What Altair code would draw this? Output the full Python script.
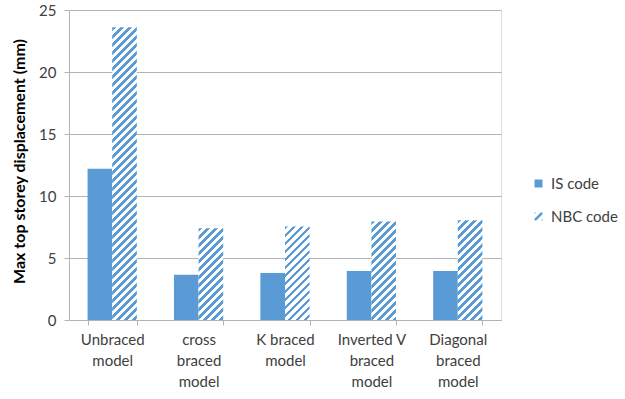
import altair as alt
import pandas as pd

categories = ["Unbraced model", "cross braced model", "K braced model",
              "Inverted V braced model", "Diagonal braced model"]
label_lines = [["Unbraced", "model"], ["cross", "braced", "model"], ["K braced", "model"],
               ["Inverted V", "braced", "model"], ["Diagonal", "braced", "model"]]
series = ["IS code", "NBC code"]
is_values = [12.2, 3.65, 3.8, 3.95, 3.95]
nbc_values = [23.6, 7.4, 7.55, 7.95, 8.05]
y_ticks = [0, 5, 10, 15, 20, 25]

BLUE = "#5B9BD5"
GRID = "#B3B3B3"
TEXT = "#404040"
FONT = "Lato"
W, H = 432, 310
YMAX = 25
P_INNER = 0.43
# legend symbol shapes: solid square and a small hatched square (path in -1..1 box)
HATCH_PATH = ("M-1,0.55L0.55,-1L1,-1L1,-0.55L-0.55,1L-1,1Z"
              "M-1,-1L-0.6,-1L-1,-0.6Z M1,1L0.6,1L1,0.6Z")

rows = []
for c, a, b in zip(categories, is_values, nbc_values):
    rows.append({"category": c, "code": series[0], "value": a})
    rows.append({"category": c, "code": series[1], "value": b})
df = pd.DataFrame(rows)

step = W / len(categories)
bar_w = step * (1 - P_INNER) / 2


def hatch(w, h, period=8.0, frac=0.45):
    total = w + h
    stops = []
    k = 0
    while k * period < total:
        a = k * period / total
        b = min((k + frac) * period / total, 1)
        c = min((k + 1) * period / total, 1)
        stops += [{"offset": a, "color": BLUE}, {"offset": b, "color": BLUE},
                  {"offset": b, "color": "white"}, {"offset": c, "color": "white"}]
        k += 1
    kk = total / (w * w + h * h)
    return alt.LinearGradient(gradient="linear", x1=0, y1=0, x2=kk * w, y2=kk * h, stops=stops)


names_js = "[" + ",".join("'%s'" % c for c in categories) + "]"
lines_js = "[" + ",".join("[" + ",".join("'%s'" % s for s in l) + "]" for l in label_lines) + "]"
label_expr = f"{lines_js}[indexof({names_js}, datum.label)]"

base = alt.Chart(df).encode(
    x=alt.X("category:N", sort=categories, title=None,
            scale=alt.Scale(paddingInner=P_INNER, paddingOuter=P_INNER / 2),
            axis=alt.Axis(labelAngle=0, labelExpr=label_expr, labelFontSize=15,
                          labelLineHeight=21, labelBaseline="top", labelPadding=7,
                          labelColor=TEXT, labelFont=FONT, ticks=True, tickBand="extent",
                          tickSize=5, tickColor=GRID, domainColor=GRID, grid=False)),
    xOffset=alt.XOffset("code:N", scale=alt.Scale(domain=series)),
    y=alt.Y("value:Q", scale=alt.Scale(domain=[0, YMAX], nice=False),
            axis=alt.Axis(values=y_ticks, title="Max top storey displacement (mm)",
                          titleFont=FONT, titleFontSize=16, titleFontWeight="bold",
                          titleColor="#000000", titleAngle=-90, titleX=-50, titleY=151,
                          titleAlign="center", titleBaseline="middle",
                          labelFontSize=15, labelColor=TEXT, labelFont=FONT,
                          labelPadding=8, tickSize=5, tickColor=GRID,
                          domainColor=GRID, gridColor=GRID, grid=True)),
)

is_layer = base.transform_filter(alt.datum.code == series[0]).mark_bar(color=BLUE)

layers = [is_layer]
for cat, v in zip(categories, nbc_values):
    h = v / YMAX * H
    layers.append(
        base.transform_filter((alt.datum.code == series[1]) & (alt.datum.category == cat))
        .mark_bar(fill=hatch(bar_w, h))
    )

legend_layer = base.mark_point(filled=True, color=BLUE, opacity=0).encode(
    shape=alt.Shape("code:N", scale=alt.Scale(domain=series, range=["square", HATCH_PATH]),
                    legend=alt.Legend(title=None, orient="none", legendX=462, legendY=166,
                                      symbolSize=64, symbolFillColor=BLUE, symbolOpacity=1,
                                      symbolStrokeWidth=0,
                                      labelFontSize=15, labelColor=TEXT, labelFont=FONT,
                                      rowPadding=17, labelOffset=5, padding=0))
)
layers.append(legend_layer)

chart = alt.layer(*layers).properties(
    width=W, height=H,
    autosize=alt.AutoSizeParams(type="none"),
    padding={"left": 69, "top": 10, "right": 625 - 69 - W, "bottom": 399 - 10 - H},
).configure_view(stroke=None).configure(font=FONT)

chart.save("out.html", embed_options={"renderer": "svg", "actions": False})
